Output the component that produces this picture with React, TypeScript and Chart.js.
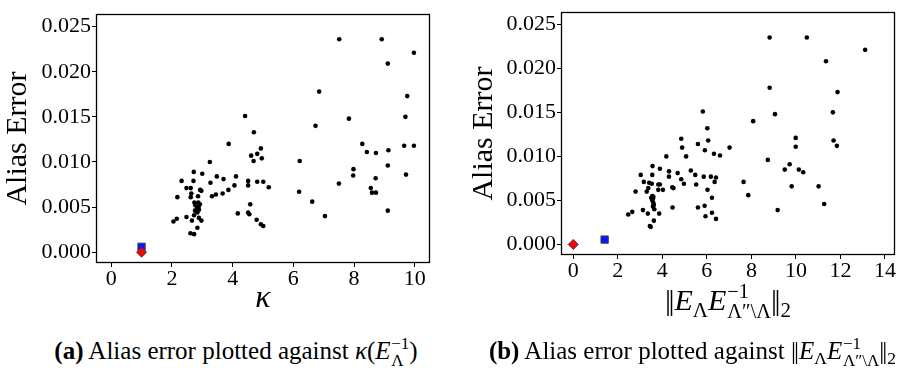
import React, { useEffect, useRef } from "react";
import { Chart, registerables } from "chart.js";

Chart.register(...registerables);

const FONT = '"Liberation Serif", "DejaVu Serif", serif';

// ---- data: panel (a), alias error vs kappa ----
const kappaX = [
  7.51, 8.91, 9.97, 9.11, 6.85, 9.75, 4.41, 7.83, 9.69, 6.73, 4.70, 3.87, 8.27, 9.65, 9.97, 4.93,
  8.42, 8.72, 9.13, 4.81, 4.61, 3.25, 6.21, 4.69, 4.96, 9.11, 7.98, 7.97, 9.71, 8.71, 2.72, 3.00,
  3.48, 3.70, 4.11, 2.32, 2.71, 3.27, 4.51, 4.81, 5.01, 4.06, 4.51, 5.19, 2.48, 2.62, 8.55, 7.50,
  2.93, 2.97, 3.86, 6.19, 8.59, 8.72, 2.64, 3.45, 3.67, 3.32, 2.62, 2.86, 2.18, 6.62, 2.74, 2.87,
  2.92, 2.77, 2.88, 2.82, 4.58, 9.11, 2.76, 2.84, 2.89, 2.73, 4.17, 4.51, 4.55, 7.04, 2.48, 2.16,
  2.05, 2.66, 2.89, 2.97, 4.79, 4.93, 5.01, 2.84, 2.61, 2.73,
];
const kappaErr = [
  0.0236, 0.0236, 0.0221, 0.0209, 0.0178, 0.0173, 0.0151, 0.0148, 0.0150, 0.0140, 0.0133, 0.0120,
  0.0120, 0.0118, 0.0118, 0.0115, 0.0111, 0.0110, 0.0113, 0.0109, 0.0107, 0.0100, 0.0101, 0.0101,
  0.0104, 0.0096, 0.0092, 0.0085, 0.0086, 0.0082, 0.0089, 0.0087, 0.0084, 0.0081, 0.0084, 0.0079,
  0.0079, 0.0077, 0.0079, 0.0078, 0.0078, 0.0074, 0.0074, 0.0072, 0.0071, 0.0071, 0.0071, 0.0076,
  0.0069, 0.0068, 0.0069, 0.0067, 0.0066, 0.0066, 0.0065, 0.0064, 0.0065, 0.0062, 0.0061, 0.0062,
  0.0061, 0.0056, 0.0055, 0.0055, 0.0053, 0.0052, 0.0050, 0.0048, 0.0053, 0.0046, 0.0046, 0.0044,
  0.0047, 0.0041, 0.0043, 0.0044, 0.0042, 0.0040, 0.0039, 0.0037, 0.0034, 0.0035, 0.0038, 0.0035,
  0.0036, 0.0031, 0.0029, 0.0027, 0.0021, 0.0020,
];
const kappaRedX = [1.0];
const kappaRedErr = [0.0];
const kappaBlueX = [1.0];
const kappaBlueErr = [0.0006];
const kappaTicks = [0, 2, 4, 6, 8, 10];

// ---- data: panel (b), alias error vs ||E_L E^-1||_2 ----
const normX = [
  8.82, 10.49, 13.11, 11.35, 8.82, 11.87, 5.82, 11.66, 9.06, 8.08, 6.02, 4.85, 9.99, 6.06, 11.69,
  5.60, 11.84, 4.89, 9.99, 7.02, 5.91, 6.32, 6.59, 5.07, 4.18, 8.74, 9.72, 3.56, 3.89, 9.50, 10.13,
  5.28, 4.30, 10.33, 4.69, 3.03, 3.55, 4.30, 5.48, 5.86, 6.18, 6.41, 4.85, 7.65, 6.35, 3.17, 3.41,
  4.97, 3.53, 3.82, 3.89, 5.52, 9.81, 11.02, 4.45, 4.50, 3.37, 3.82, 4.03, 6.03, 2.80, 3.30, 7.86,
  3.55, 3.60, 3.50, 3.58, 3.55, 3.60, 3.62, 3.58, 6.23, 11.27, 4.46, 5.60, 5.90, 9.18, 3.13, 2.65,
  2.47, 3.35, 3.86, 6.23, 5.94, 6.41, 3.62, 3.44, 3.48, 3.64,
];
const normErr = [
  0.0235, 0.0235, 0.0221, 0.0208, 0.0178, 0.0173, 0.0151, 0.0150, 0.0148, 0.0140, 0.0132, 0.0120,
  0.0121, 0.0118, 0.0118, 0.0114, 0.0112, 0.0110, 0.0111, 0.0110, 0.0107, 0.0103, 0.0101, 0.0100,
  0.0100, 0.0096, 0.0091, 0.0089, 0.0086, 0.0085, 0.0085, 0.0084, 0.0083, 0.0082, 0.0081, 0.0079,
  0.0079, 0.0077, 0.0079, 0.0077, 0.0077, 0.0076, 0.0074, 0.0071, 0.0071, 0.0071, 0.0070, 0.0069,
  0.0069, 0.0068, 0.0068, 0.0068, 0.0066, 0.0066, 0.0065, 0.0064, 0.0064, 0.0062, 0.0062, 0.0062,
  0.0060, 0.0060, 0.0056, 0.0055, 0.0054, 0.0053, 0.0052, 0.0050, 0.0047, 0.0045, 0.0043, 0.0053,
  0.0046, 0.0042, 0.0042, 0.0044, 0.0039, 0.0039, 0.0037, 0.0034, 0.0035, 0.0035, 0.0036, 0.0032,
  0.0029, 0.0027, 0.0021, 0.0020, 0.0040,
];
const normRedX = [0.0];
const normRedErr = [0.0];
const normBlueX = [1.41];
const normBlueErr = [0.00055];
const normTicks = [0, 2, 4, 6, 8, 10, 12, 14];

const errTicks = [0, 0.005, 0.01, 0.015, 0.02, 0.025];

const pts = (xs: number[], ys: number[]) => xs.map((x, i) => ({ x, y: ys[i] }));

const framePlugin = {
  id: "frame",
  afterDatasetsDraw(chart: any) {
    const { ctx, chartArea } = chart;
    const l = Math.round(chartArea.left) + 0.5;
    const t = Math.round(chartArea.top) + 0.5;
    const r = Math.round(chartArea.right) - 0.5;
    const b = Math.round(chartArea.bottom) - 0.5;
    ctx.save();
    ctx.strokeStyle = "#000";
    ctx.lineWidth = 1.3;
    ctx.strokeRect(l, t, r - l, b - t);
    ctx.restore();
  },
};

type PanelProps = {
  xs: number[];
  ys: number[];
  redX: number[];
  redY: number[];
  blueX: number[];
  blueY: number[];
  xTicks: number[];
  xMin: number;
  xMax: number;
  xTitle: string;
  width: number;
  height: number;
  padTop: number;
  padRight: number;
  yAxisWidth: number;
  xAxisHeight: number;
  yTitlePad: number;
};

function Panel(p: PanelProps) {
  const ref = useRef<HTMLCanvasElement | null>(null);
  useEffect(() => {
    if (!ref.current) return;
    const chart = new Chart(ref.current, {
      type: "scatter",
      data: {
        datasets: [
          {
            data: pts(p.xs, p.ys),
            pointRadius: 2.3,
            pointBackgroundColor: "#000",
            pointBorderWidth: 0,
            showLine: false,
          },
          {
            data: pts(p.redX, p.redY),
            pointStyle: "rectRot",
            pointRadius: 5,
            pointBackgroundColor: "#ff0000",
            pointBorderColor: "#3a3a3a",
            pointBorderWidth: 1,
            showLine: false,
          },
          {
            data: pts(p.blueX, p.blueY),
            pointStyle: "rect",
            pointRadius: 5.2,
            pointBackgroundColor: "#0a14ff",
            pointBorderColor: "#4a4a4a",
            pointBorderWidth: 1,
            showLine: false,
          },
        ],
      },
      options: {
        animation: false,
        responsive: false,
        devicePixelRatio: 1,
        layout: { padding: { left: 0, top: p.padTop, right: p.padRight, bottom: 0 } },
        plugins: { legend: { display: false }, tooltip: { enabled: false } },
        scales: {
          x: {
            type: "linear",
            min: p.xMin,
            max: p.xMax,
            afterFit: (s: any) => {
              s.height = p.xAxisHeight;
            },
            afterBuildTicks: (s: any) => {
              s.ticks = p.xTicks.map((v) => ({ value: v }));
            },
            grid: { drawOnChartArea: false, drawTicks: true, tickLength: 4, color: "#000", lineWidth: 1 },
            border: { display: false },
            ticks: {
              color: "#000",
              font: { family: FONT, size: 22, lineHeight: 1 },
              padding: 1,
              maxRotation: 0,
              autoSkip: false,
              callback: (v: any) => String(v),
            },
            title: {
              display: p.xTitle !== "",
              text: p.xTitle,
              color: "#000",
              font: { family: FONT, size: 32, style: "italic", lineHeight: 1.2 },
              padding: { top: 0, bottom: 12 },
            },
          },
          y: {
            type: "linear",
            min: -0.0012,
            max: 0.0264,
            afterFit: (s: any) => {
              s.width = p.yAxisWidth;
            },
            afterBuildTicks: (s: any) => {
              s.ticks = errTicks.map((v) => ({ value: v }));
            },
            grid: { drawOnChartArea: false, drawTicks: true, tickLength: 4, color: "#000", lineWidth: 1 },
            border: { display: false },
            ticks: {
              color: "#000",
              font: { family: FONT, size: 22, lineHeight: 1 },
              padding: 1,
              autoSkip: false,
              callback: (v: any) => Number(v).toFixed(3),
            },
            title: {
              display: true,
              text: "Alias Error",
              color: "#000",
              font: { family: FONT, size: 30, lineHeight: 1.2 },
              padding: { top: p.yTitlePad, bottom: 0 },
            },
          },
        },
      },
      plugins: [framePlugin],
    } as any);
    return () => chart.destroy();
  }, []);
  return (
    <canvas
      ref={ref}
      width={p.width}
      height={p.height}
      style={{ width: p.width, height: p.height, display: "block" }}
    />
  );
}

function Script({ sup, sub }: { sup: string; sub: string }) {
  return (
    <span
      style={{
        display: "inline-flex",
        flexDirection: "column",
        verticalAlign: "0.6em",
        fontSize: "0.68em",
        lineHeight: 1.0,
        marginLeft: "0.04em",
        fontStyle: "normal",
        textAlign: "left",
      }}
    >
      <span>{sup}</span>
      <span>{sub}</span>
    </span>
  );
}

function Sub({ children }: { children: React.ReactNode }) {
  return (
    <span style={{ fontSize: "0.7em", verticalAlign: "-0.3em", fontStyle: "normal" }}>{children}</span>
  );
}

function Bars() {
  return <span style={{ letterSpacing: "-0.08em", marginRight: "0.08em" }}>||</span>;
}

export default function App() {
  return (
    <div
      style={{
        position: "absolute",
        left: 0,
        top: 0,
        width: 923,
        height: 376,
        background: "#fff",
        fontFamily: FONT,
        color: "#000",
        overflow: "hidden",
      }}
    >
      <div style={{ position: "absolute", left: 0, top: 0 }}>
        <Panel
          xs={kappaX}
          ys={kappaErr}
          redX={kappaRedX}
          redY={kappaRedErr}
          blueX={kappaBlueX}
          blueY={kappaBlueErr}
          xTicks={kappaTicks}
          xMin={-0.5}
          xMax={10.5}
          xTitle="κ"
          width={460}
          height={330}
          padTop={14}
          padRight={30}
          yAxisWidth={96}
          xAxisHeight={67}
          yTitlePad={0}
        />
      </div>
      <div style={{ position: "absolute", left: 460, top: 0 }}>
        <Panel
          xs={normX}
          ys={normErr}
          redX={normRedX}
          redY={normRedErr}
          blueX={normBlueX}
          blueY={normBlueErr}
          xTicks={normTicks}
          xMin={-0.55}
          xMax={14.45}
          xTitle=""
          width={463}
          height={330}
          padTop={6}
          padRight={28}
          yAxisWidth={101}
          xAxisHeight={75}
          yTitlePad={6}
        />
      </div>
      <div
        style={{
          position: "absolute",
          left: 561,
          width: 334,
          top: 281,
          textAlign: "center",
          fontSize: 30,
          lineHeight: "30px",
          whiteSpace: "nowrap",
        }}
      >
        <Bars />
        <i>E</i>
        <Sub>Λ</Sub>
        <i>E</i>
        <Script sup="−1" sub={"Λ\u2033\\Λ"} />
        <Bars />
        <Sub>2</Sub>
      </div>
      <div
        style={{
          position: "absolute",
          left: 0,
          width: 472,
          top: 335,
          textAlign: "center",
          fontSize: 25,
          lineHeight: "28px",
          whiteSpace: "nowrap",
        }}
      >
        <b>(a)</b> Alias error plotted against <i>κ</i>(<i>E</i>
        <Script sup="−1" sub="Λ" />)
      </div>
      <div
        style={{
          position: "absolute",
          left: 462,
          width: 461,
          top: 335,
          textAlign: "center",
          fontSize: 25,
          lineHeight: "28px",
          whiteSpace: "nowrap",
        }}
      >
        <b>(b)</b> Alias error plotted against <Bars />
        <i>E</i>
        <Sub>Λ</Sub>
        <i>E</i>
        <Script sup="−1" sub={"Λ\u2033\\Λ"} />
        <Bars />
        <Sub>2</Sub>
      </div>
    </div>
  );
}
